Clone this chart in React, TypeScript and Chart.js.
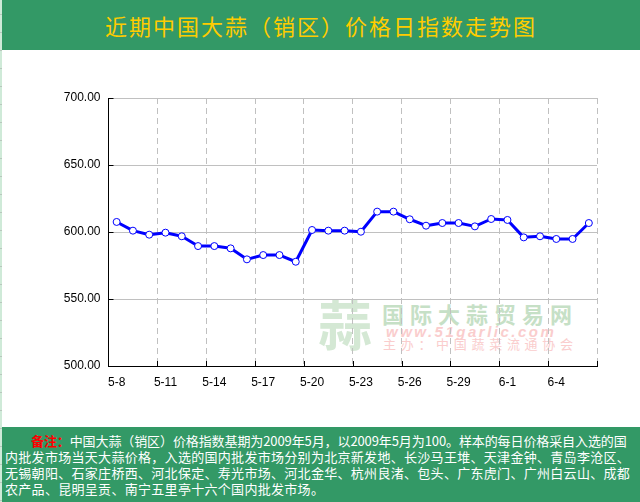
import React, { useEffect, useRef } from "react";
import { Chart, registerables } from "chart.js";

Chart.register(...registerables);

const dates = [
  "5-8", "5-9", "5-10", "5-11", "5-12", "5-13", "5-14", "5-15", "5-16", "5-17",
  "5-18", "5-19", "5-20", "5-21", "5-22", "5-23", "5-24", "5-25", "5-26", "5-27",
  "5-28", "5-29", "5-30", "5-31", "6-1", "6-2", "6-3", "6-4", "6-5", "6-6",
];

const indexValues = [
  607.5, 601.0, 598.0, 599.5, 596.8, 589.5, 589.5, 587.8, 579.6, 582.8,
  582.8, 577.8, 601.5, 601.0, 601.0, 600.2, 615.2, 615.2, 609.5, 604.7,
  606.7, 606.7, 604.2, 609.7, 609.0, 596.0, 596.8, 594.8, 594.8, 606.7,
];

const yMin = 500;
const yMax = 700;
const yStep = 50;
const labelEvery = 3;

const titleText = "近期中国大蒜（销区）价格日指数走势图";
const noteLabel = "备注：";
const noteLines = [
  "中国大蒜（销区）价格指数基期为2009年5月，以2009年5月为100。样本的每日价格采自入选的国",
  "内批发市场当天大蒜价格，入选的国内批发市场分别为北京新发地、长沙马王堆、天津金钟、青岛李沧区、",
  "无锡朝阳、石家庄桥西、河北保定、寿光市场、河北金华、杭州良渚、包头、广东虎门、广州白云山、成都",
  "农产品、昆明呈贡、南宁五里亭十六个国内批发市场。",
];

const GREEN = "#339966";
const CJK = '"Noto Sans CJK SC", "Noto Sans", sans-serif';

export default function App() {
  const ref = useRef<HTMLCanvasElement | null>(null);

  useEffect(() => {
    if (!ref.current) return;
    const inwardTicks = {
      id: "inwardTicks",
      afterDatasetsDraw(chart: any) {
        const { ctx, chartArea } = chart;
        const xs = chart.scales.x;
        const ys = chart.scales.y;
        ctx.save();
        ctx.strokeStyle = "#000";
        ctx.lineWidth = 1;
        ctx.beginPath();
        for (const t of ys.ticks) {
          const py = Math.round(ys.getPixelForValue(t.value)) + 0.5;
          ctx.moveTo(chartArea.left, py);
          ctx.lineTo(chartArea.left + 5, py);
        }
        for (let k = labelEvery; k <= dates.length; k += labelEvery) {
          const px = Math.round(xs.getPixelForValue(k - 0.5)) + 0.5;
          ctx.moveTo(px, chartArea.bottom);
          ctx.lineTo(px, chartArea.bottom - 5);
        }
        ctx.stroke();
        ctx.restore();
      },
    };

    const chart = new Chart(ref.current, {
      type: "line",
      data: {
        labels: dates,
        datasets: [
          {
            data: indexValues,
            borderColor: "#0000ff",
            borderWidth: 3,
            borderJoinStyle: "round",
            pointRadius: 3.5,
            pointBackgroundColor: "#ffffff",
            pointBorderColor: "#0000ff",
            pointBorderWidth: 1,
            tension: 0,
          },
        ],
      },
      options: {
        responsive: false,
        animation: false,
        layout: { padding: { left: 0, right: 43, top: 98, bottom: 0 } },
        plugins: { legend: { display: false }, tooltip: { enabled: false } },
        scales: {
          x: {
            type: "category",
            offset: true,
            grid: {
              offset: true,
              drawTicks: false,
              lineWidth: 1,
              color: (c: any) => {
                const i = c.index;
                if (i === undefined) return "#c0c0c0";
                return i > 0 && i % labelEvery === 0 ? "#c0c0c0" : "rgba(0,0,0,0)";
              },
            },
            border: { color: "#000", width: 1, dash: [6, 4] },
            ticks: {
              autoSkip: false,
              maxRotation: 0,
              minRotation: 0,
              padding: 9,
              color: "#000",
              font: { family: '"Liberation Sans", Arial, sans-serif', size: 12 },
              callback: (_v: any, i: number) => (i % labelEvery === 0 ? dates[i] : ""),
            },
            afterFit: (s: any) => {
              s.height = 136;
            },
          },
          y: {
            min: yMin,
            max: yMax,
            grid: { color: "#c0c0c0", drawTicks: false, lineWidth: 1 },
            border: { color: "#000", width: 1 },
            ticks: {
              stepSize: yStep,
              padding: 8,
              color: "#000",
              font: { family: '"Liberation Sans", Arial, sans-serif', size: 12 },
              callback: (v: any) => Number(v).toFixed(2),
            },
            afterFit: (s: any) => {
              s.width = 108.5;
            },
          },
        },
      } as any,
      plugins: [inwardTicks],
    });
    return () => chart.destroy();
  }, []);

  return (
    <div
      style={{
        position: "fixed",
        left: 0,
        top: 0,
        width: 640,
        height: 502,
        background: "#ffffff",
        overflow: "hidden",
      }}
    >
      {/* watermark */}
      <div
        style={{
          position: "absolute",
          left: 318,
          top: 296,
          fontFamily: CJK,
          fontSize: 54,
          lineHeight: "54px",
          fontWeight: 700,
          color: "rgb(212,232,212)",
        }}
      >
        蒜
      </div>
      <div
        style={{
          position: "absolute",
          left: 382,
          top: 302,
          fontFamily: CJK,
          fontSize: 22,
          lineHeight: "22px",
          fontWeight: 700,
          letterSpacing: 6,
          color: "rgb(198,224,198)",
          whiteSpace: "nowrap",
        }}
      >
        国际大蒜贸易网
      </div>
      <div
        style={{
          position: "absolute",
          left: 386,
          top: 324,
          fontFamily: '"Liberation Sans", Arial, sans-serif',
          fontSize: 15,
          lineHeight: "15px",
          fontStyle: "italic",
          fontWeight: 700,
          letterSpacing: 2.5,
          color: "rgb(250,205,205)",
          whiteSpace: "nowrap",
        }}
      >
        www.51garlic.com
      </div>
      <div
        style={{
          position: "absolute",
          left: 383,
          top: 337,
          fontFamily: CJK,
          fontSize: 13,
          lineHeight: "13px",
          letterSpacing: 4.7,
          color: "rgb(250,205,205)",
          whiteSpace: "nowrap",
        }}
      >
        主办：中国蔬菜流通协会
      </div>

      <canvas
        ref={ref}
        width={640}
        height={502}
        style={{ position: "absolute", left: 0, top: 0, width: 640, height: 502 }}
      />

      {/* left strip */}
      <div
        style={{
          position: "absolute",
          left: 0,
          top: 0,
          width: 2,
          height: 502,
          background:
            "repeating-linear-gradient(to bottom, #cfead8 0px, #cfead8 14px, #b8c8bd 14px, #b8c8bd 15px, #cfead8 15px, #cfead8 18px)",
        }}
      />

      {/* title banner */}
      <div
        style={{
          position: "absolute",
          left: 2,
          top: 0,
          width: 638,
          height: 50,
          background: GREEN,
          color: "#FFCC00",
          fontFamily: CJK,
          fontSize: 22,
          lineHeight: "50px",
          letterSpacing: 2,
          textAlign: "center",
          whiteSpace: "nowrap",
        }}
      >
        {titleText}
      </div>

      {/* note panel */}
      <div
        style={{
          position: "absolute",
          left: 2,
          top: 427,
          width: 638,
          height: 75,
          background: GREEN,
          color: "#ffffff",
          fontFamily: CJK,
          fontSize: 13,
          lineHeight: "16px",
          letterSpacing: 0.3,
          paddingTop: 6,
          paddingLeft: 3,
          boxSizing: "border-box",
          whiteSpace: "nowrap",
        }}
      >
        {noteLines.map((line, i) => (
          <div
            key={i}
            style={{ paddingLeft: i === 0 ? 26 : 0, letterSpacing: i === 0 ? -0.1 : 0.3 }}
          >
            {i === 0 && (
              <span style={{ color: "#ff0000", fontWeight: 700 }}>{noteLabel}</span>
            )}
            {line}
          </div>
        ))}
      </div>
    </div>
  );
}
